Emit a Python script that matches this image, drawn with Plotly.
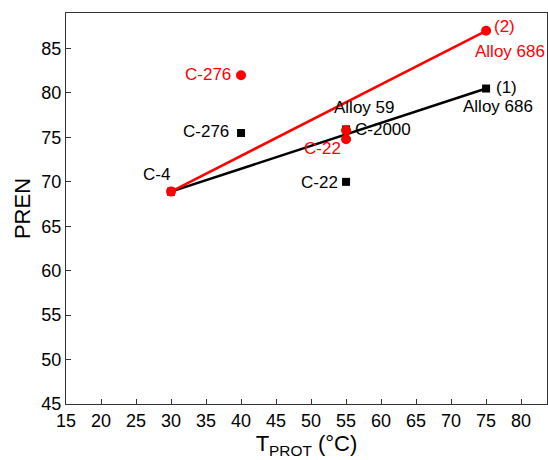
import plotly.graph_objects as go

# Data
black_x = [30, 40, 55, 55, 75]
black_y = [68.9, 75.5, 70.0, 75.9, 80.5]
black_labels = ["C-4", "C-276", "C-22", "Alloy 59 / C-2000", "Alloy 686 (1)"]
red_x = [30, 40, 55, 55, 75]
red_y = [68.9, 82.0, 75.8, 74.8, 87.0]
red_labels = ["C-4", "C-276", "Alloy 59", "C-22", "Alloy 686 (2)"]
black_line_x = [30, 75]
black_line_y = [68.9, 80.5]
red_line_x = [30, 75]
red_line_y = [68.9, 87.0]
x_ticks = list(range(15, 85, 5))
y_ticks = list(range(45, 90, 5))

FONT = "Liberation Sans, Arial, Helvetica, sans-serif"

fig = go.Figure()
fig.add_trace(go.Scatter(x=black_line_x, y=black_line_y, mode="lines",
                         line=dict(color="black", width=2.5), showlegend=False))
fig.add_trace(go.Scatter(x=red_line_x, y=red_line_y, mode="lines",
                         line=dict(color="#ff0000", width=2.5), showlegend=False))
fig.add_trace(go.Scatter(x=black_x, y=black_y, mode="markers",
                         marker=dict(symbol="square", color="black", size=8),
                         showlegend=False))
fig.add_trace(go.Scatter(x=red_x, y=red_y, mode="markers",
                         marker=dict(symbol="circle", color="#ff0000", size=10),
                         showlegend=False))

def ann(x, y, text, color, xanchor, xshift=0, yshift=0):
    fig.add_annotation(x=x, y=y, xref="x", yref="y", text=text, showarrow=False,
                       xanchor=xanchor, yanchor="middle", xshift=xshift, yshift=yshift,
                       borderpad=0, font=dict(family=FONT, size=17, color=color))

# black labels
ann(black_x[0], black_y[0], "C-4", "black", "center", -15, 17)
ann(black_x[1], black_y[1], "C-276", "black", "right", -11, 1)
ann(black_x[2], black_y[2], "C-22", "black", "right", -7, -1)
ann(black_x[3], black_y[3], "Alloy 59", "black", "center", 18, 22)
ann(black_x[3], black_y[3], "C-2000", "black", "left", 8, 0)
ann(black_x[4], black_y[4], "(1)", "black", "left", 9, 1)
ann(black_x[4], black_y[4], "Alloy 686", "black", "center", 12, -18)
# red labels
ann(red_x[1], red_y[1], "C-276", "#ff0000", "right", -9, 1)
ann(red_x[3], red_y[3], "C-22", "#ff0000", "right", -4, -9)
ann(red_x[4], red_y[4], "(2)", "#ff0000", "left", 7, 4)
ann(red_x[4], red_y[4], "Alloy 686", "#ff0000", "center", 24, -21)

fig.update_layout(
    width=548, height=460,
    margin=dict(l=66, r=1, t=13, b=56, autoexpand=False),
    paper_bgcolor="white", plot_bgcolor="white",
    font=dict(family=FONT, size=18, color="black"),
    xaxis=dict(range=[15, 83.7], tickvals=x_ticks, ticktext=[str(v) for v in x_ticks],
               ticks="inside", ticklen=5, tickcolor="#333", showgrid=False, zeroline=False,
               showline=True, linecolor="#333", linewidth=1, mirror=True,
               automargin=False, tickfont=dict(size=18),
               title=dict(text="T<sub>PROT</sub> (°C)", font=dict(size=22), standoff=6)),
    yaxis=dict(range=[45, 89], tickvals=y_ticks, ticktext=[str(v) for v in y_ticks],
               ticks="inside", ticklen=5, tickcolor="#333", showgrid=False, zeroline=False,
               showline=True, linecolor="#333", linewidth=1, mirror=True,
               automargin=False, tickfont=dict(size=18),
               title=dict(text="PREN", font=dict(size=22), standoff=4)),
)

fig.write_html("out.html", config={"displayModeBar": False},
               post_script="document.body.style.margin='0';")
